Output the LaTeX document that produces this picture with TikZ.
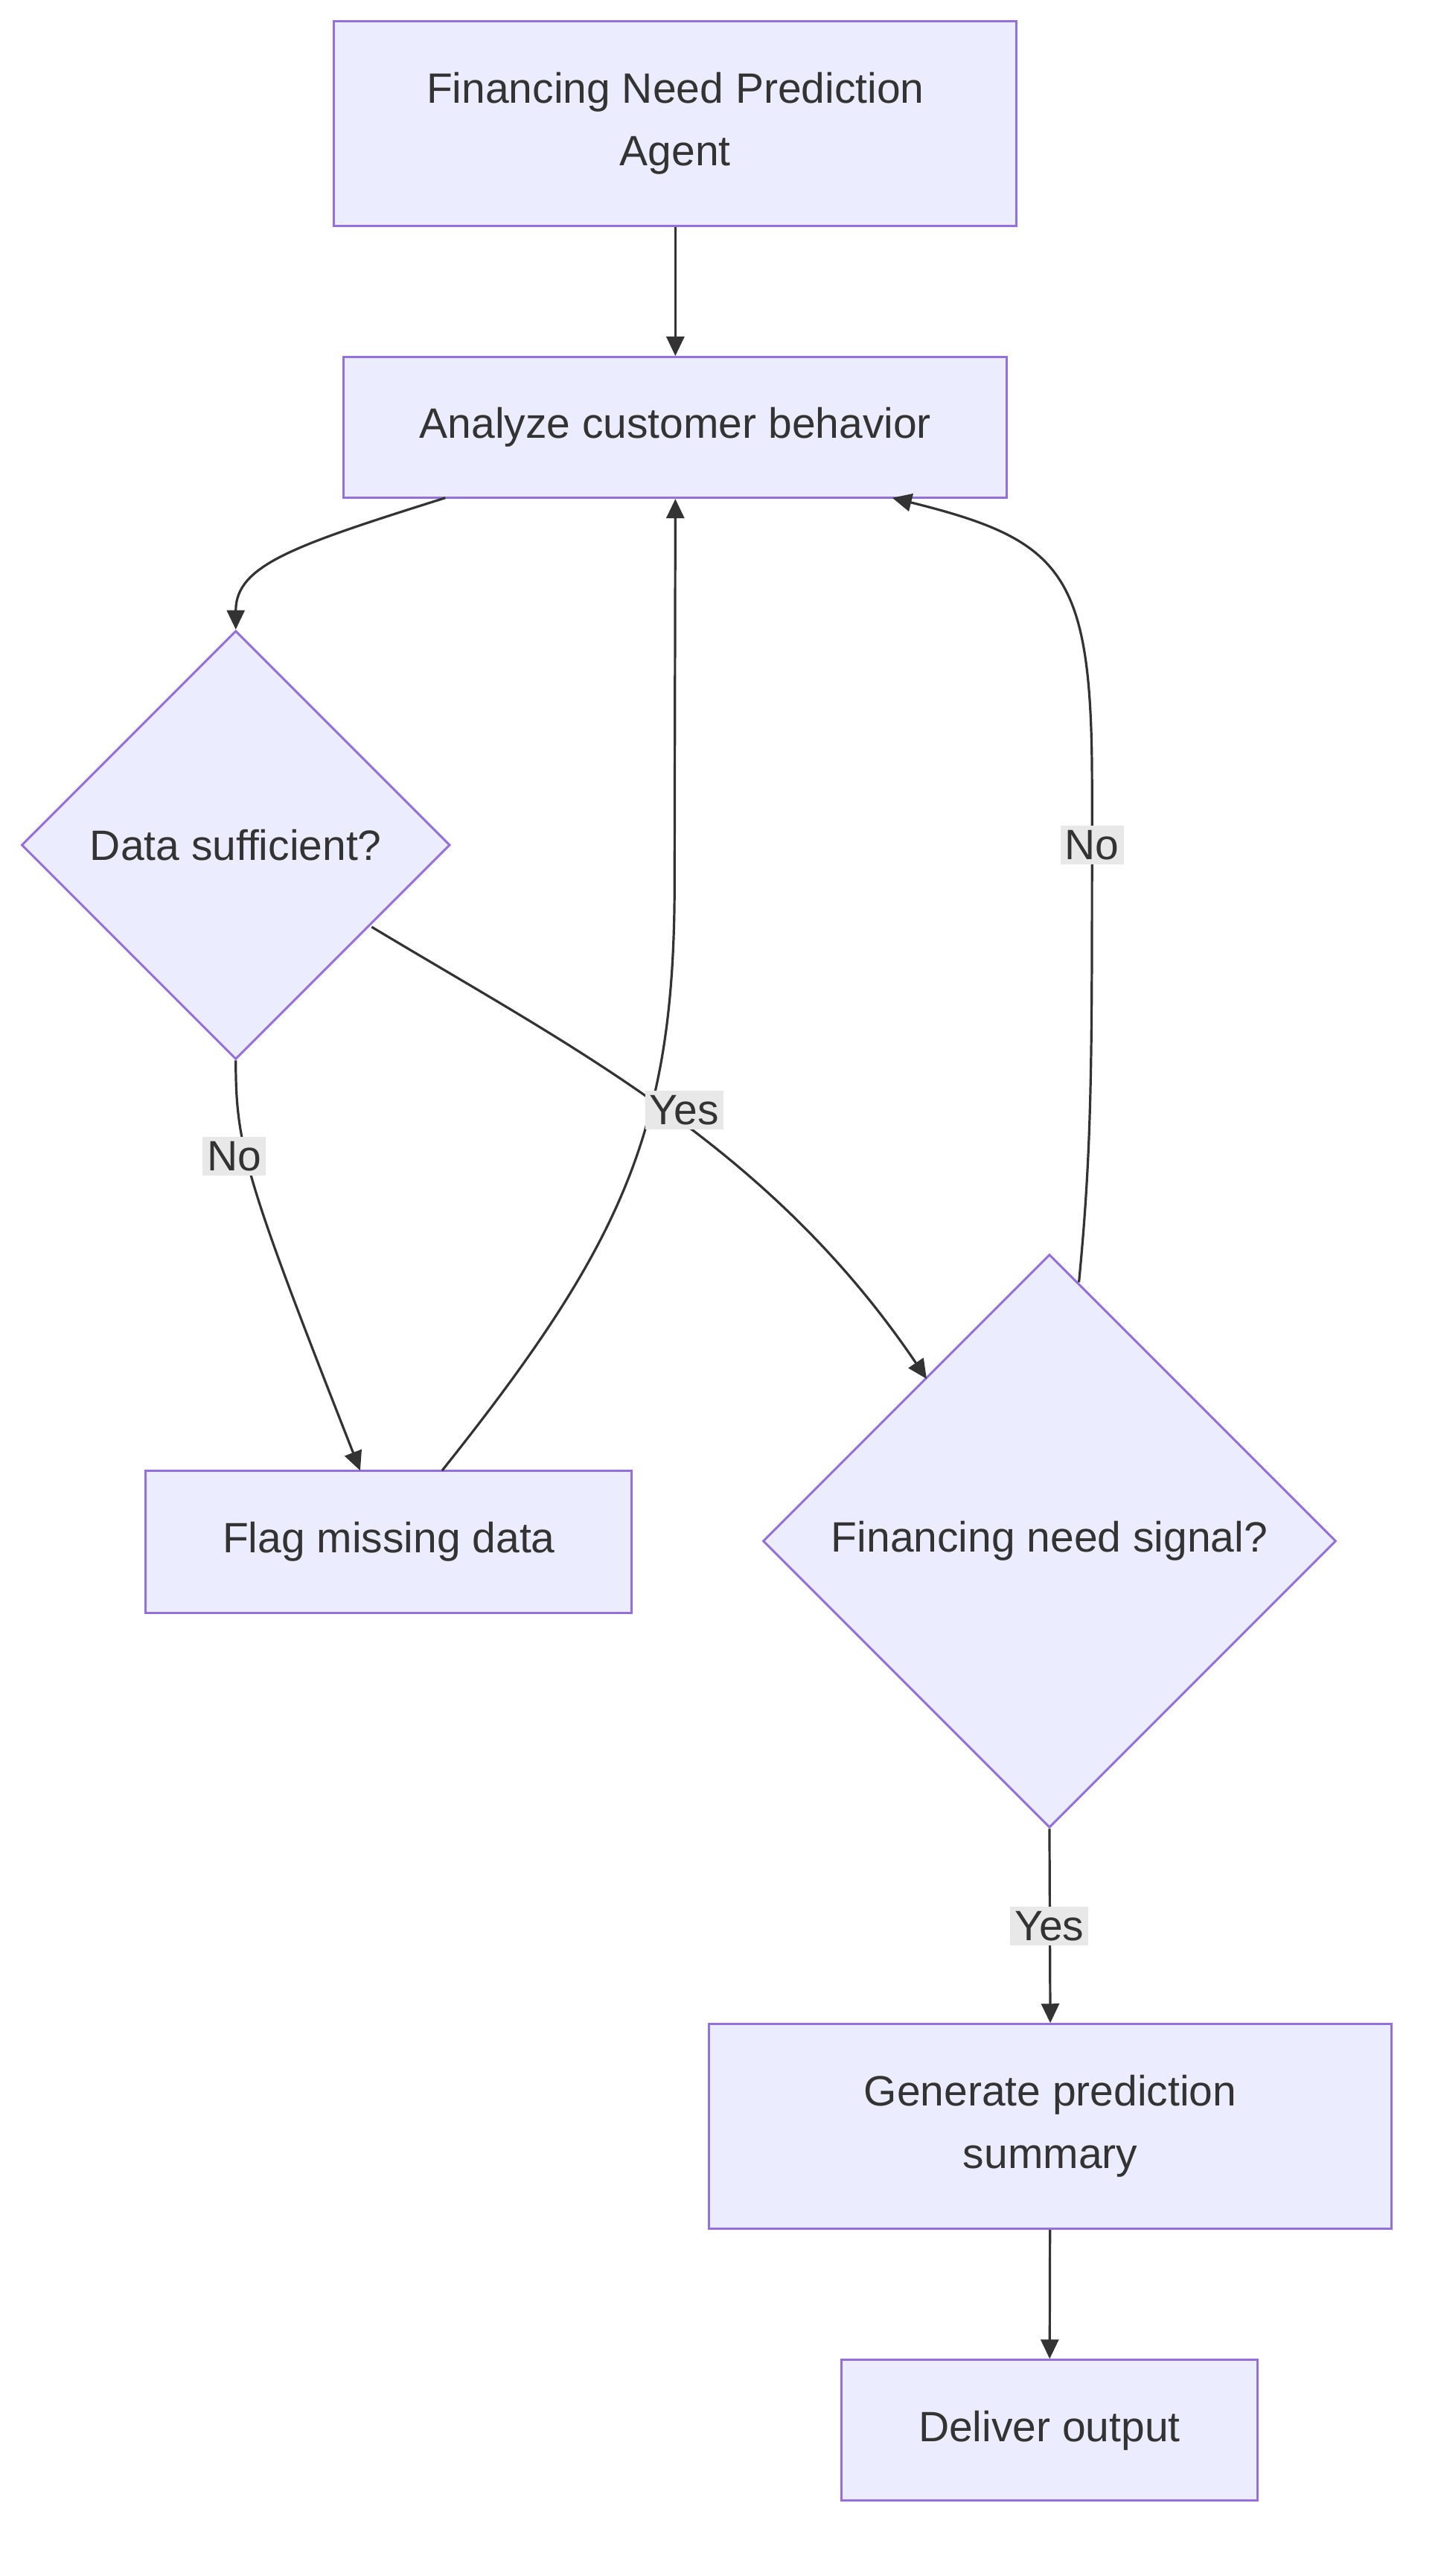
\documentclass[tikz,border=0pt]{standalone}
\usepackage{fontspec}
\setmainfont{Liberation Sans}
\usetikzlibrary{shapes.geometric,arrows.meta}
\definecolor{nfill}{HTML}{ECECFF}
\definecolor{nline}{HTML}{9370DB}
\definecolor{ink}{HTML}{333333}
\definecolor{lbl}{HTML}{E8E8E8}
\begin{document}
\begin{tikzpicture}[x=2.2pt,y=-2.2pt,
  every node/.style={font=\fontsize{57}{84}\selectfont,text=ink},
  box/.style={draw=nline,fill=nfill,line width=3pt,inner sep=0pt,align=center},
  dia/.style={draw=nline,fill=nfill,line width=3pt,diamond,aspect=1,inner sep=0pt},
  edge/.style={draw=ink,line width=3.2pt,-{Triangle[length=26pt,width=24pt]}},
  lab/.style={fill=lbl,inner sep=6pt}]
\useasboundingbox (0,0) rectangle (880,1573);
\node[box,minimum width=917pt,minimum height=275pt] (A) at (412.5,75.5) {Financing Need Prediction\\Agent};
\node[box,minimum width=891pt,minimum height=189pt] (B) at (412.5,261) {Analyze customer behavior};
\node[dia,minimum size=576pt] (C) at (144,516) {Data sufficient?};
\node[box,minimum width=653pt,minimum height=191pt] (D) at (237.5,941.5) {Flag missing data};
\node[dia,minimum size=770pt] (E) at (641,941) {Financing need signal?};
\node[box,minimum width=917pt,minimum height=275pt] (F) at (641.5,1298.5) {Generate prediction\\summary};
\node[box,minimum width=559pt,minimum height=189pt] (G) at (641,1484) {Deliver output};
\coordinate (bl) at (272,304);
\coordinate (br) at (545,304);
\coordinate (cr) at (227,566);
\coordinate (dt) at (270,898);
\coordinate (dtt) at (220,898);
\coordinate (er) at (659,783);
\coordinate (el) at (566,842);
\draw[edge] (A) -- (B);
\draw[edge] (bl) .. controls (180,333) and (144,345) .. (C.north);
\draw[edge] (C.south) .. controls (144,700) and (150,720) .. (dtt);
\draw[edge] (cr) .. controls (350,640) and (470,700) .. (el);
\draw[edge] (dt) .. controls (380,760) and (412,690) .. (412,540) -- (B.south);
\draw[edge] (er) .. controls (667,700) and (667,650) .. (667,500) -- (667,480) .. controls (667,350) and (650,330) .. (br);
\draw[edge] (E.south) -- (F.north);
\draw[edge] (F) -- (G);
\node[lab] (l1) at (143,706) {No};
\node[lab] (l2) at (418,678) {Yes};
\node[lab] (l3) at (667,516) {No};
\node[lab] (l4) at (641,1176) {Yes};
\end{tikzpicture}
\end{document}
